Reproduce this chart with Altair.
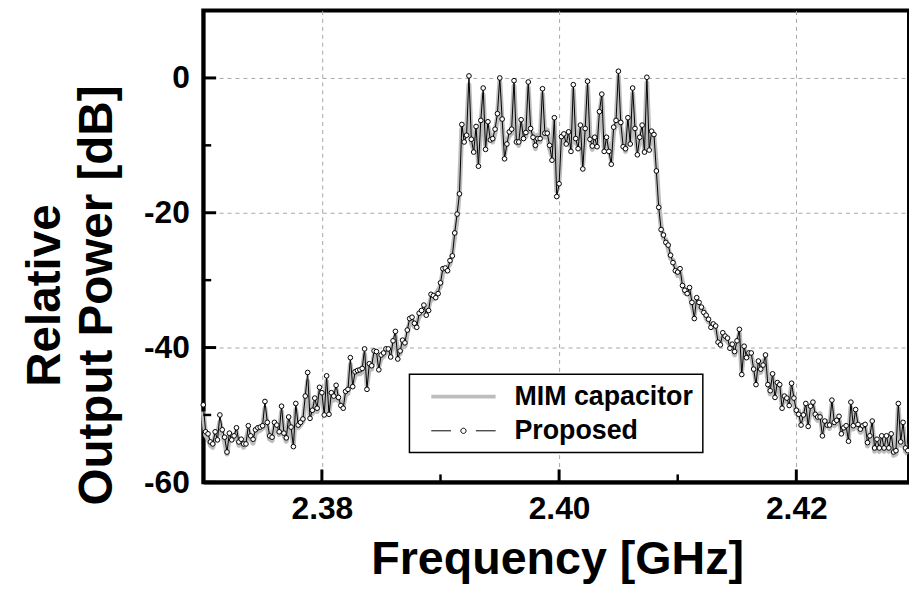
import altair as alt
import pandas as pd

# Sweep grid of the spectrum analyser (GHz)
FREQ_START = 2.370
FREQ_STEP = 0.0002

# "Proposed" trace (dB), one value per sweep step
proposed_db = [
    -48.5, -52.5, -52.8, -54.0, -54.3, -52.5, -53.7, -50.0, -52.2, -53.3,
    -55.5, -52.7, -53.7, -53.1, -51.9, -54.0, -53.6, -54.3, -54.3, -51.6,
    -53.1, -53.6, -52.2, -51.9, -51.8, -51.6, -48.0, -51.1, -53.1, -53.3,
    -51.1, -51.5, -52.5, -48.7, -52.7, -53.4, -50.3, -51.8, -54.7, -48.3,
    -51.5, -51.1, -50.6, -47.2, -43.7, -50.5, -49.3, -47.5, -49.0, -45.9,
    -46.7, -50.0, -44.2, -49.9, -46.7, -47.2, -45.6, -47.4, -48.6, -49.0,
    -46.5, -46.2, -41.5, -45.8, -43.6, -43.4, -43.3, -43.1, -40.2, -46.2,
    -42.4, -42.7, -40.5, -40.6, -43.3, -41.1, -40.8, -40.2, -40.2, -41.4,
    -39.0, -37.6,
    -41.7, -40.5, -38.9, -39.3, -37.4, -35.7, -35.5, -36.4, -37.0, -34.9,
    -34.5, -33.7, -35.2, -34.5, -32.1, -32.3, -32.6, -32.0, -30.4, -28.3,
    -28.2, -28.6, -27.1, -26.4, -23.0, -20.2, -17.2,
    -6.9, -9.5, -8.5, 0.3, -9.1, -11.0, -7.2, -13.1, -6.3, -1.5,
    -10.6, -6.5, -9.2, -9.0, -7.6, -5.3, 0.0, -6.1, -12.0, -9.8,
    -8.0, -7.6, -0.4, -9.5, -9.5, -6.2, -9.0, -8.1, -0.6, -7.5,
    -8.8, -10.0, -9.0, -9.0, -1.6, -8.2, -8.2, -10.0, -12.2, -5.9,
    -17.6, -15.7, -8.7, -8.3, -9.8, -8.0, -10.9, -1.0, -9.0, -10.5,
    -7.0, -13.5, -7.5, -0.5, -9.1, -10.1, -8.8, -10.2, -5.0, -2.4,
    -10.9, -8.8, -10.9, -12.8, -7.3, -6.3, 1.0, -6.6, -10.2, -10.5,
    -5.9, -9.8, -1.5, -7.5, -11.4, -8.8, -7.0, -11.0, 0.1, -10.7,
    -7.9, -8.4, -13.8, -19.2,
    -22.5, -23.3, -24.4, -24.8, -26.3, -27.4, -28.6, -28.8, -28.3, -30.8,
    -31.5, -32.0, -31.1, -33.3, -35.7, -32.6, -33.3, -34.0, -34.8, -35.2,
    -35.8, -37.0, -36.5, -36.8, -39.2, -39.6, -37.8, -38.3, -38.6, -40.1,
    -39.5, -40.6, -39.0, -37.3, -44.0, -39.8, -41.5, -40.8,
    -40.8, -43.2, -45.5, -42.0, -43.2, -42.6, -41.1, -45.5, -46.4, -43.9,
    -47.4, -45.2, -45.5, -49.0, -47.2, -47.5, -48.6, -45.3, -47.5, -49.3,
    -49.9, -51.5, -50.0, -48.3, -51.7, -48.7, -48.1, -49.9, -50.3, -50.3,
    -53.1, -50.9, -51.5, -51.5, -47.8, -51.1, -50.8, -50.2, -52.8, -51.9,
    -51.6, -53.9, -48.1, -51.6, -49.2, -51.4, -52.1, -51.6, -51.4, -54.1,
    -53.1, -50.9, -54.9, -53.6, -54.9, -53.1, -54.9, -53.1, -54.9, -52.8,
    -55.5, -55.3, -48.3, -54.0, -51.1, -54.9, -55.3,
]

# "MIM capacitor" trace (dB)
mim_db = [
    -49.5, -53.0, -53.5, -54.5, -54.8, -53.0, -53.0, -51.0, -52.8, -54.0,
    -55.8, -53.2, -53.0, -53.5, -52.5, -54.5, -54.0, -54.8, -53.8, -52.2,
    -53.6, -54.2, -52.8, -52.4, -52.3, -52.0, -49.0, -51.8, -53.6, -53.8,
    -51.6, -52.0, -52.9, -49.5, -53.0, -53.9, -50.9, -52.3, -54.2, -49.2,
    -51.9, -51.5, -51.0, -47.9, -45.0, -50.0, -49.8, -48.1, -49.5, -46.6,
    -47.2, -49.5, -45.0, -49.4, -47.2, -47.8, -46.2, -47.9, -48.1, -48.6,
    -47.0, -46.8, -42.5, -45.3, -44.1, -43.9, -43.9, -43.6, -41.0, -45.6,
    -42.9, -43.2, -41.2, -41.1, -42.8, -41.6, -41.3, -40.8, -40.7, -40.9,
    -39.6, -38.3,
    -41.2, -40.9, -39.4, -39.8, -37.9, -36.3, -36.0, -36.9, -36.5, -35.4,
    -35.0, -34.2, -34.8, -34.0, -32.7, -32.8, -32.1, -31.5, -30.9, -28.8,
    -28.7, -28.1, -27.6, -26.0, -23.5, -20.8, -16.5,
    -7.5, -9.0, -8.0, -1.0, -9.6, -10.5, -7.8, -12.5, -7.0, -2.5,
    -10.0, -7.2, -8.7, -9.5, -8.2, -5.8, -0.5, -6.8, -11.4, -9.3,
    -8.6, -8.2, -1.2, -9.0, -10.0, -6.8, -8.5, -8.7, -1.4, -8.0,
    -8.3, -10.5, -8.5, -9.5, -2.4, -8.8, -7.7, -10.5, -11.6, -6.5,
    -16.8, -15.0, -9.3, -8.9, -9.3, -8.6, -10.3, -1.8, -9.6, -10.0,
    -7.6, -12.8, -8.1, -1.3, -8.6, -10.6, -9.3, -9.7, -5.6, -3.0,
    -10.3, -9.3, -10.4, -12.2, -7.9, -6.9, 0.2, -7.2, -9.7, -10.9,
    -6.5, -9.3, -2.3, -8.1, -10.8, -9.3, -7.6, -10.5, -0.7, -10.1,
    -8.5, -8.9, -13.0, -18.6,
    -22.0, -23.8, -24.0, -25.3, -26.8, -27.0, -28.1, -29.3, -28.8, -30.3,
    -31.9, -31.6, -31.6, -33.8, -35.2, -33.1, -33.8, -34.5, -34.3, -35.7,
    -36.2, -36.5, -36.9, -37.3, -38.7, -39.2, -38.3, -38.8, -39.1, -39.6,
    -40.0, -41.1, -39.5, -37.9, -43.4, -40.3, -41.0, -41.3,
    -41.3, -42.7, -45.0, -42.5, -43.7, -42.1, -41.6, -45.0, -46.9, -44.4,
    -46.9, -45.7, -46.0, -48.5, -47.7, -48.0, -48.1, -45.8, -48.0, -49.8,
    -49.4, -51.0, -50.5, -48.8, -51.2, -49.2, -48.6, -50.4, -50.8, -49.8,
    -52.6, -51.4, -51.0, -52.0, -48.4, -51.6, -51.3, -50.7, -52.3, -52.4,
    -52.1, -53.4, -48.9, -52.1, -49.8, -51.9, -52.6, -52.1, -51.9, -54.6,
    -53.6, -51.5, -55.4, -54.1, -55.4, -53.6, -55.4, -53.6, -55.4, -53.3,
    -56.0, -55.8, -49.0, -54.5, -51.7, -55.4, -55.8,
]

series_names = ["MIM capacitor", "Proposed"]
series_colors = ["#bdbdbd", "#000000"]
series_widths = [5, 1]
# legend symbols: plain line / line with a small open circle
series_symbols = [
    "M-2.95,0H2.95",
    "M-2.95,0H-1.14M1.14,0H2.95M0.24,0A0.24,0.24,0,1,1,-0.24,0A0.24,0.24,0,1,1,0.24,0Z",
]

x_major = [2.38, 2.40, 2.42]
x_minor = [2.39, 2.41]
y_major = [-60, -40, -20, 0]
y_minor = [-50, -30, -10]
x_domain = [2.37, 2.4295]
y_domain = [-60, 10]

PLOT_W, PLOT_H = 712, 476
MAJOR_LEN, MINOR_LEN = 13, 8  # inward tick lengths, px

freq = [round(FREQ_START + FREQ_STEP * i, 4) for i in range(len(proposed_db))]
df_prop = pd.DataFrame({"freq": freq, "db": proposed_db})
df_mim = pd.DataFrame({"freq": freq[: len(mim_db)], "db": mim_db})
df_legend = pd.DataFrame({"series": series_names})

FONT = "Liberation Sans"
xs = alt.Scale(domain=x_domain, nice=False, zero=False)
ys = alt.Scale(domain=y_domain, nice=False, zero=False)
COMMON = dict(
    labelFont=FONT, labelFontSize=32, labelFontWeight="bold", labelColor="black",
    labelFlush=False, labelOverlap=False, ticks=False, tickSize=0,
    domain=True, domainColor="black", domainWidth=3.5,
    grid=True, gridColor="#a6a6a6", gridDash=[4, 4], gridWidth=1,
)

main_x_axis = alt.Axis(
    orient="bottom", values=x_major, labelExpr="format(datum.value, '.2f')",
    labelPadding=11,
    title="Frequency [GHz]", titleFont=FONT, titleFontSize=47, titleFontWeight="bold",
    titleColor="black", titleX=357, titleY=92, titleBaseline="alphabetic",
    titleAlign="center", titleAngle=0, **COMMON,
)
main_y_axis = alt.Axis(
    orient="left", values=y_major, labelExpr="'' + datum.value", labelPadding=14,
    title=["Relative", "Output Power [dB]"], titleFont=FONT, titleFontSize=48,
    titleFontWeight="bold", titleColor="black", titleAngle=270, titleAlign="center",
    titleBaseline="alphabetic", titleX=-145, titleY=287, titleLineHeight=52, **COMMON,
)


# every layer gets the very same axis definitions so the shared axes merge
def X(field):
    return alt.X(field, scale=xs, axis=main_x_axis)


def Y(field):
    return alt.Y(field, scale=ys, axis=main_y_axis)


mim_line = alt.Chart(df_mim).mark_line(
    color=series_colors[0], strokeWidth=series_widths[0], strokeJoin="round"
).encode(x=X("freq:Q"), y=Y("db:Q"))

prop_line = alt.Chart(df_prop).mark_line(
    color=series_colors[1], strokeWidth=series_widths[1]
).encode(x=X("freq:Q"), y=Y("db:Q"))

prop_points = alt.Chart(df_prop).mark_point(
    shape="circle", filled=True, fill="white", stroke="black", strokeWidth=1,
    size=22, opacity=1,
).encode(x=X("freq:Q"), y=Y("db:Q"))

# inward tick marks: positions are the tick values, lengths converted from px
y_span = y_domain[1] - y_domain[0]
x_span = x_domain[1] - x_domain[0]


def x_ticks(values, length, width):
    d = pd.DataFrame({
        "v": values,
        "a": [y_domain[0]] * len(values),
        "b": [y_domain[0] + length * y_span / PLOT_H] * len(values),
    })
    return alt.Chart(d).mark_rule(color="black", strokeWidth=width).encode(
        x=X("v:Q"), y=Y("a:Q"), y2="b:Q",
    )


def y_ticks(values, length, width):
    d = pd.DataFrame({
        "v": values,
        "a": [x_domain[0]] * len(values),
        "b": [x_domain[0] + length * x_span / PLOT_W] * len(values),
    })
    return alt.Chart(d).mark_rule(color="black", strokeWidth=width).encode(
        y=Y("v:Q"), x=X("a:Q"), x2="b:Q",
    )


legend = alt.Legend(
    title=None, orient="none", legendX=208, legendY=367, padding=9, rowPadding=6.5,
    symbolOffset=32, labelOffset=38, symbolSize=484, labelFont=FONT, labelFontSize=27,
    labelFontWeight="bold", labelColor="black", labelLimit=500,
    strokeColor="black", fillColor="white",
)

legend_layer = alt.Chart(df_legend).mark_point(
    filled=True, fill="white", size=484, opacity=1
).encode(
    stroke=alt.Stroke("series:N", scale=alt.Scale(domain=series_names, range=series_colors), legend=legend),
    strokeWidth=alt.StrokeWidth("series:N", scale=alt.Scale(domain=series_names, range=[4, 1]), legend=legend),
    shape=alt.Shape("series:N", scale=alt.Scale(domain=series_names, range=series_symbols), legend=legend),
).transform_filter("false")

chart = alt.layer(
    mim_line, prop_line, prop_points,
    x_ticks(x_major, MAJOR_LEN, 3), x_ticks(x_minor, MINOR_LEN, 2.5),
    y_ticks(y_major, MAJOR_LEN, 3), y_ticks(y_minor, MINOR_LEN, 2.5),
    legend_layer,
).properties(
    width=PLOT_W, height=PLOT_H,
    autosize=alt.AutoSizeParams(type="none"),
    padding={"left": 197, "top": 0, "right": 0, "bottom": 102},
).configure_view(stroke="black", strokeWidth=4).configure_legend(strokeWidth=1.5)

chart.save("out.html", embed_options={"renderer": "svg", "actions": False})
